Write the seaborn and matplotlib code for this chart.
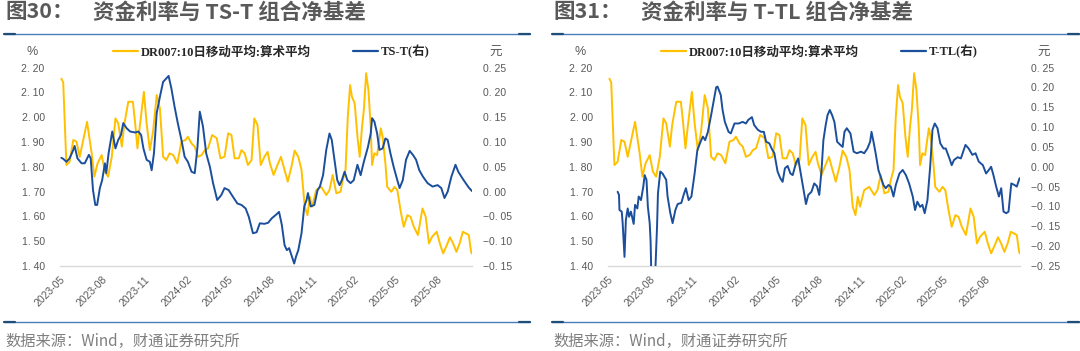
import pandas as pd
import numpy as np
import matplotlib.pyplot as plt
import matplotlib.dates as mdates
from matplotlib.lines import Line2D
from matplotlib.ticker import FuncFormatter
import seaborn as sns

# -----------------------------
# Data
# -----------------------------
dr_dates = [
    "2023-05-04", "2023-05-08", "2023-05-15", "2023-05-22", "2023-05-30", "2023-06-06", "2023-06-13", "2023-06-20",
    "2023-06-29", "2023-07-09", "2023-07-15", "2023-07-22", "2023-07-31", "2023-08-07", "2023-08-14", "2023-08-22",
    "2023-08-30", "2023-09-05", "2023-09-13", "2023-09-18", "2023-09-27", "2023-10-07", "2023-10-12", "2023-10-17",
    "2023-10-22", "2023-10-31", "2023-11-06", "2023-11-13", "2023-11-20", "2023-11-28", "2023-12-05", "2023-12-12",
    "2023-12-19", "2023-12-26", "2024-01-03", "2024-01-12", "2024-01-21", "2024-01-30", "2024-02-04", "2024-02-12",
    "2024-02-19", "2024-02-26", "2024-03-05", "2024-03-12", "2024-03-19", "2024-03-28", "2024-04-07", "2024-04-15",
    "2024-04-24", "2024-05-02", "2024-05-09", "2024-05-16", "2024-05-25", "2024-05-31", "2024-06-07", "2024-06-14",
    "2024-06-22", "2024-06-28", "2024-07-05", "2024-07-12", "2024-07-20", "2024-07-27", "2024-08-01", "2024-08-09",
    "2024-08-16", "2024-08-25", "2024-09-02", "2024-09-09", "2024-09-17", "2024-09-24", "2024-10-02", "2024-10-09",
    "2024-10-16", "2024-10-22", "2024-10-27", "2024-11-01", "2024-11-10", "2024-11-21", "2024-12-02", "2024-12-09",
    "2024-12-16", "2024-12-24", "2025-01-02", "2025-01-07", "2025-01-13", "2025-01-18", "2025-01-23", "2025-01-27",
    "2025-02-02", "2025-02-08", "2025-02-13", "2025-02-18", "2025-02-22", "2025-02-27", "2025-03-04", "2025-03-09",
    "2025-03-12", "2025-03-17", "2025-03-23", "2025-03-31", "2025-04-04", "2025-04-10", "2025-04-14", "2025-04-23",
    "2025-04-30", "2025-05-06", "2025-05-13", "2025-05-20", "2025-05-28", "2025-06-04", "2025-06-11", "2025-06-20",
    "2025-06-30", "2025-07-07", "2025-07-14", "2025-07-21", "2025-07-31", "2025-08-07", "2025-08-14", "2025-08-22",
    "2025-08-29", "2025-09-05", "2025-09-12", "2025-09-19", "2025-09-26", "2025-10-03", "2025-10-09", "2025-10-14",
    "2025-10-16",
]
dr_vals = [
    2.155, 2.140, 1.807, 1.820, 1.908, 1.901, 1.840, 1.901,
    1.981, 1.855, 1.760, 1.814, 1.847, 1.780, 1.760, 1.840,
    1.995, 1.975, 1.881, 1.968, 2.062, 2.062, 1.975, 1.874,
    1.961, 2.102, 1.975, 1.867, 1.941, 2.089, 2.035, 1.840,
    1.827, 1.854, 1.847, 1.814, 1.901, 1.908, 1.921, 1.894,
    1.881, 1.840, 1.847, 1.867, 1.874, 1.928, 1.915, 1.834,
    1.840, 1.935, 1.928, 1.834, 1.834, 1.867, 1.854, 1.807,
    1.827, 1.995, 1.968, 1.807, 1.840, 1.860, 1.814, 1.767,
    1.800, 1.840, 1.787, 1.740, 1.800, 1.865, 1.840, 1.787,
    1.639, 1.605, 1.679, 1.639, 1.706, 1.719, 1.686, 1.706,
    1.767, 1.693, 1.699, 1.746, 1.787, 2.002, 2.129, 2.082,
    2.056, 1.921, 1.840, 1.961, 2.029, 2.177, 2.109, 1.961,
    1.807, 1.854, 1.847, 1.955, 1.921, 1.814, 1.719, 1.699,
    1.719, 1.706, 1.625, 1.558, 1.605, 1.598, 1.558, 1.525,
    1.632, 1.598, 1.491, 1.518, 1.538, 1.490, 1.451, 1.484,
    1.516, 1.490, 1.457, 1.491, 1.538, 1.531, 1.525, 1.457,
    1.450,
]

ts_dates = [
    "2023-05-04", "2023-05-08", "2023-05-15", "2023-05-22", "2023-05-30", "2023-06-02", "2023-06-08", "2023-06-17",
    "2023-06-24", "2023-07-03", "2023-07-07", "2023-07-12", "2023-07-17", "2023-07-21", "2023-07-27", "2023-08-01",
    "2023-08-07", "2023-08-10", "2023-08-15", "2023-08-23", "2023-08-30", "2023-09-05", "2023-09-11", "2023-09-16",
    "2023-09-23", "2023-10-01", "2023-10-12", "2023-10-19", "2023-10-25", "2023-10-30", "2023-11-06", "2023-11-13",
    "2023-11-17", "2023-11-22", "2023-11-28", "2023-12-05", "2023-12-12", "2023-12-19", "2023-12-24", "2023-12-30",
    "2024-01-06", "2024-01-13", "2024-01-21", "2024-01-28", "2024-02-04", "2024-02-12", "2024-02-19", "2024-02-25",
    "2024-03-01", "2024-03-08", "2024-03-15", "2024-03-23", "2024-03-30", "2024-04-08", "2024-04-17", "2024-04-24",
    "2024-05-03", "2024-05-12", "2024-05-22", "2024-05-31", "2024-06-09", "2024-06-16", "2024-06-25", "2024-07-03",
    "2024-07-10", "2024-07-20", "2024-07-28", "2024-08-05", "2024-08-14", "2024-08-21", "2024-08-27", "2024-09-02",
    "2024-09-07", "2024-09-12", "2024-09-18", "2024-09-23", "2024-09-27", "2024-10-02", "2024-10-09", "2024-10-15",
    "2024-10-20", "2024-10-23", "2024-10-29", "2024-11-06", "2024-11-13", "2024-11-18", "2024-11-25", "2024-12-02",
    "2024-12-09", "2024-12-14", "2024-12-20", "2024-12-26", "2024-12-31", "2025-01-05", "2025-01-11", "2025-01-17",
    "2025-01-24", "2025-01-31", "2025-02-08", "2025-02-15", "2025-02-22", "2025-03-03", "2025-03-09", "2025-03-12",
    "2025-03-17", "2025-03-23", "2025-03-28", "2025-04-04", "2025-04-10", "2025-04-15", "2025-04-21", "2025-04-28",
    "2025-05-06", "2025-05-11", "2025-05-18", "2025-05-25", "2025-06-02", "2025-06-09", "2025-06-16", "2025-06-23",
    "2025-07-01", "2025-07-11", "2025-07-22", "2025-08-02", "2025-08-10", "2025-08-17", "2025-08-24", "2025-09-01",
    "2025-09-10", "2025-09-16", "2025-09-27", "2025-10-09", "2025-10-16",
]
ts_vals = [
    0.068, 0.066, 0.060, 0.067, 0.084, 0.092, 0.067, 0.057,
    0.057, 0.074, 0.067, 0.003, -0.027, -0.027, 0.007, 0.023,
    0.057, 0.037, 0.077, 0.121, 0.087, 0.104, 0.114, 0.138,
    0.128, 0.121, 0.119, 0.121, 0.114, 0.087, 0.064, 0.060,
    0.043, 0.077, 0.158, 0.191, 0.221, 0.228, 0.233, 0.208,
    0.171, 0.138, 0.104, 0.070, 0.060, 0.040, 0.037, 0.090,
    0.161, 0.131, 0.077, 0.050, 0.017, -0.017, -0.007, 0.007,
    0.003, -0.010, -0.024, -0.027, -0.034, -0.051, -0.084, -0.082,
    -0.064, -0.065, -0.063, -0.054, -0.047, -0.041, -0.067, -0.108,
    -0.118, -0.114, -0.131, -0.145, -0.131, -0.118, -0.084, -0.030,
    -0.017, -0.003, -0.030, -0.027, 0.003, 0.010, 0.033, 0.084,
    0.117, 0.104, 0.064, 0.023, 0.013, 0.023, 0.040, 0.023,
    0.017, 0.023, 0.054, 0.033, 0.060, 0.090, 0.117, 0.148,
    0.141, 0.117, 0.084, 0.087, 0.107, 0.104, 0.077, 0.050,
    0.023, 0.007, 0.023, 0.064, 0.082, 0.074, 0.064, 0.043,
    0.030, 0.017, 0.010, 0.013, 0.007, -0.013, 0.000, 0.030,
    0.054, 0.040, 0.024, 0.008, 0.001,
]

ttl_dates = [
    "2023-05-22", "2023-05-25", "2023-05-26", "2023-05-31", "2023-06-02", "2023-06-06", "2023-06-09", "2023-06-13",
    "2023-06-16", "2023-06-20", "2023-06-26", "2023-06-29", "2023-07-04", "2023-07-07", "2023-07-12", "2023-07-17",
    "2023-07-20", "2023-07-24", "2023-07-27", "2023-07-31", "2023-08-02", "2023-08-04", "2023-08-11", "2023-08-16",
    "2023-08-18", "2023-08-23", "2023-08-28", "2023-09-05", "2023-09-08", "2023-09-14", "2023-09-19", "2023-09-25",
    "2023-09-30", "2023-10-08", "2023-10-13", "2023-10-18", "2023-10-24", "2023-10-30", "2023-11-06", "2023-11-12",
    "2023-11-19", "2023-11-24", "2023-11-29", "2023-12-05", "2023-12-12", "2023-12-18", "2023-12-23", "2023-12-26",
    "2024-01-02", "2024-01-06", "2024-01-11", "2024-01-19", "2024-01-24", "2024-02-01", "2024-02-10", "2024-02-19",
    "2024-02-26", "2024-03-02", "2024-03-10", "2024-03-15", "2024-03-23", "2024-03-30", "2024-04-05", "2024-04-10",
    "2024-04-17", "2024-04-22", "2024-04-28", "2024-05-05", "2024-05-11", "2024-05-16", "2024-05-21", "2024-05-27",
    "2024-06-02", "2024-06-07", "2024-06-14", "2024-06-19", "2024-06-27", "2024-07-03", "2024-07-06", "2024-07-11",
    "2024-07-18", "2024-07-24", "2024-07-30", "2024-08-04", "2024-08-09", "2024-08-13", "2024-08-18", "2024-08-22",
    "2024-08-27", "2024-09-01", "2024-09-06", "2024-09-12", "2024-09-19", "2024-09-24", "2024-09-28", "2024-10-03",
    "2024-10-11", "2024-10-18", "2024-10-25", "2024-11-03", "2024-11-10", "2024-11-17", "2024-11-23", "2024-11-26",
    "2024-12-01", "2024-12-05", "2024-12-11", "2024-12-16", "2024-12-22", "2024-12-27", "2025-01-02", "2025-01-07",
    "2025-01-13", "2025-01-18", "2025-01-26", "2025-02-02", "2025-02-09", "2025-02-16", "2025-02-24", "2025-03-01",
    "2025-03-06", "2025-03-12", "2025-03-17", "2025-03-22", "2025-03-28", "2025-04-03", "2025-04-08", "2025-04-13",
    "2025-04-19", "2025-04-25", "2025-05-02", "2025-05-07", "2025-05-15", "2025-05-20", "2025-05-25", "2025-06-02",
    "2025-06-09", "2025-06-19", "2025-06-26", "2025-07-04", "2025-07-11", "2025-07-18", "2025-07-27", "2025-08-03",
    "2025-08-09", "2025-08-14", "2025-08-19", "2025-08-25", "2025-08-31", "2025-09-05", "2025-09-10", "2025-09-16",
    "2025-09-21", "2025-09-27", "2025-10-04", "2025-10-09", "2025-10-15",
]
ttl_vals = [
    -0.063, -0.071, -0.109, -0.113, -0.142, -0.227, -0.134, -0.105,
    -0.126, -0.113, -0.144, -0.096, -0.105, -0.075, -0.084, -0.050,
    -0.021, -0.033, -0.101, -0.142, -0.189, -0.300, -0.300, -0.151,
    -0.067, -0.012, -0.017, -0.033, -0.075, -0.117, -0.142, -0.109,
    -0.094, -0.091, -0.071, -0.054, -0.084, -0.075, -0.017, 0.042,
    0.063, 0.076, 0.067, 0.088, 0.130, 0.168, 0.200, 0.202,
    0.181, 0.143, 0.113, 0.088, 0.084, 0.109, 0.109, 0.113,
    0.109, 0.118, 0.125, 0.105, 0.093, 0.088, 0.088, 0.063,
    0.059, 0.046, 0.034, -0.012, -0.029, -0.038, -0.004, 0.002,
    -0.017, -0.021, 0.009, 0.021, -0.033, -0.075, -0.094, -0.071,
    -0.063, -0.042, -0.049, -0.071, -0.008, 0.067, 0.105, 0.130,
    0.143, 0.130, 0.113, 0.063, 0.055, 0.050, 0.088, 0.097,
    0.084, 0.038, 0.034, 0.038, 0.034, 0.046, 0.063, 0.088,
    0.059, 0.034, -0.008, -0.025, -0.046, -0.054, -0.046, -0.050,
    -0.075, -0.046, -0.017, -0.008, -0.021, -0.042, -0.075, -0.109,
    -0.088, -0.101, -0.096, -0.117, -0.084, 0.000, 0.093, 0.109,
    0.097, 0.059, 0.046, 0.046, 0.021, 0.004, 0.017, 0.024,
    0.021, 0.055, 0.046, 0.030, 0.034, 0.013, 0.004, -0.017,
    -0.008, 0.000, -0.021, -0.050, -0.075, -0.054, -0.113, -0.117,
    -0.113, -0.042, -0.046, -0.050, -0.029,
]

rate_ticks = [1.40, 1.50, 1.60, 1.70, 1.80, 1.90, 2.00, 2.10, 2.20]
ts_ticks = [-0.15, -0.10, -0.05, 0.00, 0.05, 0.10, 0.15, 0.20, 0.25]
ttl_ticks = [-0.25, -0.20, -0.15, -0.10, -0.05, 0.00, 0.05, 0.10, 0.15, 0.20, 0.25]
month_ticks = ["2023-05", "2023-08", "2023-11", "2024-02", "2024-05", "2024-08",
               "2024-11", "2025-02", "2025-05", "2025-08"]

titles = [("图30：", "资金利率与 TS-T 组合净基差"), ("图31：", "资金利率与 T-TL 组合净基差")]
dr_label = "DR007:10日移动平均:算术平均"
spread_labels = ["TS-T(右)", "T-TL(右)"]
source_text = "数据来源：Wind，财通证券研究所"

# -----------------------------
# Style
# -----------------------------
sns.set_style("white")
plt.rcParams['font.family'] = ['Liberation Sans', 'Noto Sans CJK SC', 'DejaVu Sans']

YELLOW = "#FFC000"
BLUE = "#1B4F9C"
GREY = "#595959"
W, H = 1080, 351

df_dr = pd.DataFrame({"date": pd.to_datetime(dr_dates), "value": dr_vals})
spreads = [
    pd.DataFrame({"date": pd.to_datetime(ts_dates), "value": ts_vals}),
    pd.DataFrame({"date": pd.to_datetime(ttl_dates), "value": ttl_vals}),
]
right_ticks = [ts_ticks, ttl_ticks]


def fmt(v, _):
    v = round(v, 2) + 0.0
    return f"{v:.2f}".replace(".", ". ").replace("-", "\u2212")


fig = plt.figure(figsize=(W / 100, H / 100), dpi=100)

for i in range(2):
    off = 548 * i
    ax = fig.add_axes([(off + 60) / W, 1 - 266 / H, 412 / W, (266 - 67.5) / H])
    sns.lineplot(data=df_dr, x="date", y="value", ax=ax, color=YELLOW, lw=1.4)
    ax2 = ax.twinx()
    sns.lineplot(data=spreads[i], x="date", y="value", ax=ax2, color=BLUE, lw=1.4)

    ax.set_xlim(pd.Timestamp("2023-05-01"), pd.Timestamp("2025-10-16"))
    ax.set_ylim(rate_ticks[0], rate_ticks[-1])
    ax.set_yticks(rate_ticks)
    ax2.set_ylim(right_ticks[i][0], right_ticks[i][-1])
    ax2.set_yticks(right_ticks[i])
    ax.yaxis.set_major_formatter(FuncFormatter(fmt))
    ax2.yaxis.set_major_formatter(FuncFormatter(fmt))

    ax.set_xticks(pd.to_datetime(month_ticks))
    ax.xaxis.set_major_formatter(mdates.DateFormatter("%Y-%m"))
    for lab in ax.get_xticklabels():
        lab.set_rotation(45)
        lab.set_ha("right")
        lab.set_rotation_mode("anchor")

    for a in (ax, ax2):
        a.set_xlabel("")
        a.set_ylabel("")
        a.grid(False)
        for s in ("top", "left", "right"):
            a.spines[s].set_visible(False)
    ax2.spines["bottom"].set_visible(False)
    ax.spines["bottom"].set_color("#D9D9D9")
    ax.spines["bottom"].set_linewidth(1)

    ax.tick_params(axis="x", length=3, width=0.8, color="#D9D9D9", labelsize=7.5,
                   labelcolor=GREY, pad=3)
    ax.tick_params(axis="y", length=0, labelsize=7.5, labelcolor=GREY, pad=11)
    ax2.tick_params(axis="y", length=0, labelsize=7.5, labelcolor=GREY, pad=8)

    # unit labels
    fig.text((off + 32.5) / W, 1 - 52 / H, "%", ha="center", va="center", fontsize=9, color=GREY)
    fig.text((off + 496) / W, 1 - 52 / H, "元", ha="center", va="center", fontsize=9, color=GREY,
             family=["Noto Sans CJK SC"])

    # legend
    handles = [Line2D([], [], color=YELLOW, lw=1.6), Line2D([], [], color=BLUE, lw=1.6)]
    fig.legend(handles, [dr_label, spread_labels[i]], loc="center",
               bbox_to_anchor=((off + 271.5) / W, 1 - 52 / H), ncol=2, frameon=False,
               handlelength=2.0, handletextpad=0.2, columnspacing=3.4,
               prop={"family": ["Liberation Serif", "Noto Sans CJK SC"], "weight": "bold", "size": 9})

    # title, separators, source
    fig.text((off + 5) / W, 1 - 12 / H, titles[i][0], ha="left", va="center", fontsize=15.5,
             fontweight="bold", color=GREY, family=["Noto Sans CJK SC"])
    fig.text((off + 93) / W, 1 - 12 / H, titles[i][1], ha="left", va="center", fontsize=15.5,
             fontweight="bold", color=GREY, family=["Noto Sans CJK SC"])
    fig.text((off + 5) / W, 1 - 341.5 / H, source_text, ha="left", va="center", fontsize=11,
             color="#7F7F7F", family=["Noto Sans CJK SC"])
    x_end = 530 if i == 0 else 1079
    for y in (33.5, 321.5):
        fig.add_artist(Line2D([(off + 4) / W, x_end / W], [1 - y / H] * 2, color="#4A7EBB", lw=1.0))
        fig.add_artist(Line2D([(off + 4) / W, (off + 15) / W], [1 - y / H] * 2, color="#1F4E79", lw=1.6))
        fig.add_artist(Line2D([(x_end - 11) / W, x_end / W], [1 - y / H] * 2, color="#1F4E79", lw=1.6))

fig.savefig("out.png", dpi=100)
